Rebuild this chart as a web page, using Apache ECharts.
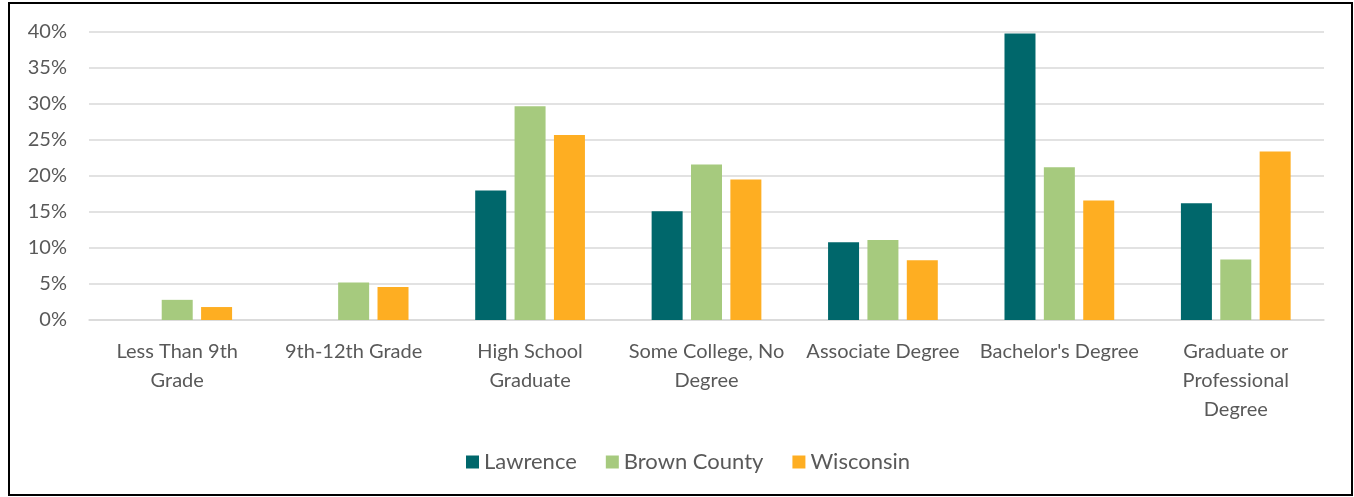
<!DOCTYPE html>
<html>
<head>
<meta charset="utf-8">
<script src="https://cdn.jsdelivr.net/npm/echarts@6/dist/echarts.min.js"></script>
<style>
html,body{margin:0;padding:0;background:#fff;}
#c{width:1354px;height:497px;}
</style>
</head>
<body>
<div id="c"></div>
<script>
var categories = ["Less Than 9th\nGrade", "9th-12th Grade", "High School\nGraduate", "Some College, No\nDegree", "Associate Degree", "Bachelor's Degree", "Graduate or\nProfessional\nDegree"];
var lawrence = [0, 0, 18.0, 15.1, 10.8, 39.8, 16.2];
var brownCounty = [2.8, 5.2, 29.7, 21.6, 11.1, 21.2, 8.4];
var wisconsin = [1.8, 4.6, 25.7, 19.5, 8.3, 16.6, 23.4];
var seriesNames = ["Lawrence", "Brown County", "Wisconsin"];

var font = "Lato, 'Noto Sans', sans-serif";
var chart = echarts.init(document.getElementById('c'), null, {renderer: 'canvas'});
function mk(name, data, color) {
  return {name: name, type: 'bar', data: data, barWidth: 31, barGap: '27%',
    itemStyle: {color: color}};
}
chart.setOption({
  animation: false,
  textStyle: {fontFamily: font},
  graphic: [{type: 'rect', shape: {x: 9, y: 3, width: 1343, height: 492},
    style: {fill: 'none', stroke: '#000', lineWidth: 2}, silent: true}],
  grid: {left: 89, right: 30, top: 32, bottom: 177, containLabel: false},
  legend: {
    data: seriesNames, left: 461, top: 446, itemWidth: 13, itemHeight: 13, itemGap: 29,
    icon: 'rect', textStyle: {fontSize: 22, color: '#595959', fontFamily: font}
  },
  xAxis: {
    type: 'category', data: categories,
    axisLine: {lineStyle: {color: '#D9D9D9', width: 1.5}},
    axisTick: {show: false},
    axisLabel: {interval: 0, fontSize: 20, color: '#595959', lineHeight: 29, margin: 17, fontFamily: font}
  },
  yAxis: {
    type: 'value', min: 0, max: 40, interval: 5,
    axisLabel: {formatter: '{value}%', fontSize: 20, color: '#595959', margin: 22, fontFamily: font},
    splitLine: {lineStyle: {color: '#D9D9D9', width: 1.5}},
    axisLine: {show: false}, axisTick: {show: false}
  },
  series: [
    mk(seriesNames[0], lawrence, '#00676B'),
    mk(seriesNames[1], brownCounty, '#A6CA7E'),
    mk(seriesNames[2], wisconsin, '#FEAE22')
  ]
});
</script>
</body>
</html>
